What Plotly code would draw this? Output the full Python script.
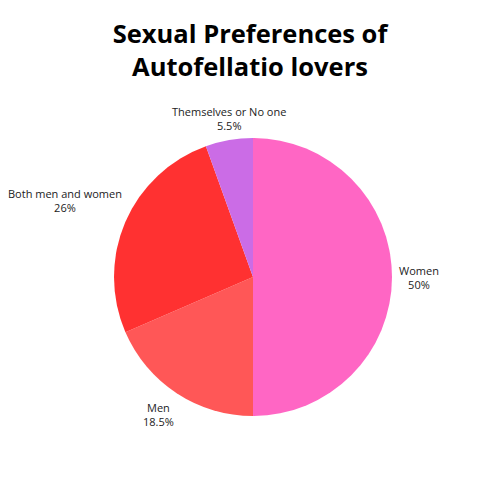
import math
import plotly.graph_objects as go

labels = ["Women", "Men", "Both men and women", "Themselves or No one"]
values = [50, 18.5, 26, 5.5]
colors = ["#FF66C4", "#FF5757", "#FF3131", "#CB6CE6"]

# plot area in px (pie fills its height)
L, R_, T, B = 78, 88, 130, 92
W, H = 500 - L - R_, 500 - T - B
RAD = H / 2
GAP_X, GAP_Y = 1, 5

fig = go.Figure(go.Pie(
    labels=labels,
    values=values,
    sort=False,
    direction="clockwise",
    rotation=0,
    marker=dict(colors=colors, line=dict(width=0)),
    textinfo="none",
    hoverinfo="label+percent",
    showlegend=False,
))

# outside labels placed at each slice's mid angle
total = sum(values)
start = 0.0
annotations = []
for lab, v in zip(labels, values):
    frac = v / total
    mid = (start + frac / 2) * 2 * math.pi
    start += frac
    s, c = math.sin(mid), math.cos(mid)
    dx, dy = RAD * s, RAD * c
    if s > 0.3:
        xa, dx = "left", dx + GAP_X + 4
    elif s < -0.3:
        xa, dx = "right", dx - GAP_X
    else:
        xa = "center"
    if c > 0.3:
        ya, dy = "bottom", dy + GAP_Y
    elif c < -0.3:
        ya, dy = "top", dy - GAP_Y
    else:
        ya = "middle"
    annotations.append(dict(
        x=0.5 + dx / W,
        y=0.5 + dy / H,
        xref="paper", yref="paper",
        xanchor=xa, yanchor=ya,
        text=f"{lab}<br>{frac * 100:g}%",
        showarrow=False,
        font=dict(family="Open Sans", size=11, color="#222"),
    ))

fig.update_layout(
    width=500, height=500,
    title=dict(
        text="<b>Sexual Preferences of<br>Autofellatio lovers</b>",
        x=0.484, xanchor="center", y=0.93, yanchor="middle",
        font=dict(family="Open Sans", size=25.5, color="#000"),
    ),
    margin=dict(l=L, r=R_, t=T, b=B),
    annotations=annotations,
    paper_bgcolor="white",
    plot_bgcolor="white",
)

fig.write_html("out.html")
